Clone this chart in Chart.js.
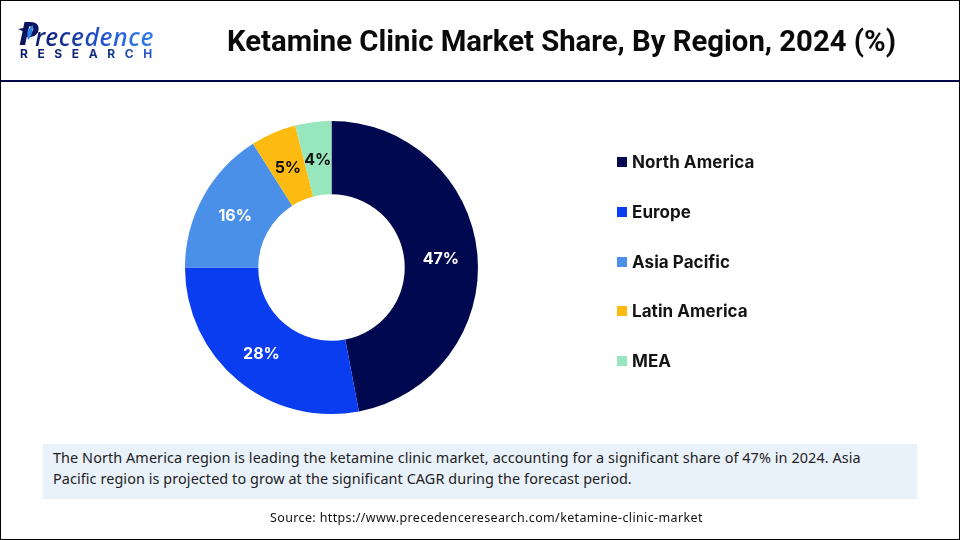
<!DOCTYPE html>
<html>
<head>
<meta charset="utf-8">
<script src="https://cdn.jsdelivr.net/npm/chart.js@4"></script>
<style>
  html, body { margin: 0; padding: 0; background: #fff; }
  #page { position: relative; width: 960px; height: 540px; overflow: hidden; background: #fff; font-family: "Noto Sans", sans-serif; }
  #page div { position: absolute; white-space: nowrap; }
  #cv { position: absolute; left: 0; top: 0; }
  #frame { left: 0; top: 0; width: 958px; height: 538px; border: 1px solid #000; }
  #rule { left: 1px; top: 80px; width: 958px; height: 2px; background: #00084a; }
  #title { left: 227px; top: 21px; font: 700 29.3px/40px Roboto, sans-serif; color: #0a0a0a; }
  #logo1 { left: 35px; top: 18px; font: italic 500 25px/36px "Noto Sans", sans-serif; letter-spacing: 0.6px;
           background: linear-gradient(90deg, #0b1a6b, #2a62e0 70%, #2f7fe6); -webkit-background-clip: text; background-clip: text; color: transparent; }
  #logoP { left: 19px; top: 13px; font: italic 800 32px/40px "Noto Sans", sans-serif; color: #0b1460; }
  #logo2 { left: 20px; top: 46px; font: 700 12px/16px Inter, sans-serif; letter-spacing: 9.6px;
           background: linear-gradient(90deg, #0b1a6b, #14307f 60%, #2a62e0); -webkit-background-clip: text; background-clip: text; color: transparent; }
  .swatch { width: 10px; height: 10px; }
  .legend { font: 700 17px/20px Inter, sans-serif; color: #141414; letter-spacing: 0.06px; }
  #note { left: 43px; top: 444px; width: 874px; height: 55px; background: #e9f1fa; }
  .noteline { left: 53px; font-size: 14.4px; line-height: 20px; color: #222; letter-spacing: 0.09px; }
  #source { left: 270px; top: 509px; font-size: 12.5px; line-height: 18px; color: #111; letter-spacing: 0.37px; }
</style>
</head>
<body>
<div id="page">
  <canvas id="cv" width="960" height="540"></canvas>
  <div id="logoP">P</div>
  <div id="logo1">recedence</div>
  <div id="logo2">RESEARCH</div>
  <svg style="position:absolute;left:0;top:0" width="60" height="60"><path d="M18 29 L29 27 L27 33 Z" fill="#0b1460"/><path d="M33 25 C33 32 31 37 28 40 C26 34 28 28 33 25 Z" fill="#2f7fe6"/></svg>
  <div id="title">Ketamine Clinic Market Share, By Region, 2024 (%)</div>
  <div id="rule"></div>
  <div id="note"></div>
  <div class="noteline" style="top:448px">The North America region is leading the ketamine clinic market, accounting for a significant share of 47% in 2024. Asia</div>
  <div class="noteline" style="top:469px">Pacific region is projected to grow at the significant CAGR during the forecast period.</div>
  <div id="source">Source: https://www.precedenceresearch.com/ketamine-clinic-market</div>
  <div id="frame"></div>
</div>
<script>
const regions = ['North America', 'Europe', 'Asia Pacific', 'Latin America', 'MEA'];
const shares = [47, 28, 16, 5, 4];
const sliceColors = ['#00084f', '#0a3cf0', '#4a8fe8', '#fdbb12', '#98e6bd'];
const labelColors = ['#ffffff', '#ffffff', '#ffffff', '#111111', '#111111'];

// percent labels inside the slices
const sliceLabels = {
  id: 'sliceLabels',
  afterDatasetsDraw(chart) {
    const ctx = chart.ctx;
    const arcs = chart.getDatasetMeta(0).data;
    ctx.save();
    ctx.font = '700 16px Inter, sans-serif';
    ctx.textAlign = 'center';
    ctx.textBaseline = 'middle';
    arcs.forEach((arc, i) => {
      const p = arc.tooltipPosition();
      ctx.fillStyle = labelColors[i];
      ctx.fillText(shares[i] + '%', p.x, p.y + 2);
    });
    ctx.restore();
  }
};

new Chart(document.getElementById('cv'), {
  type: 'doughnut',
  data: {
    labels: regions,
    datasets: [{
      data: shares,
      backgroundColor: sliceColors,
      borderWidth: 0
    }]
  },
  options: {
    responsive: false,
    animation: false,
    cutout: '50%',
    layout: { padding: { left: 185, right: 482, top: 121, bottom: 126 } },
    plugins: { legend: { display: false }, tooltip: { enabled: false } }
  },
  plugins: [sliceLabels]
});

// legend on the right
const page = document.getElementById('page');
regions.forEach((name, i) => {
  const y = 162 + i * 49.8;
  const sw = document.createElement('div');
  sw.className = 'swatch';
  sw.style.left = '617px';
  sw.style.top = (y - 5) + 'px';
  sw.style.background = sliceColors[i];
  page.appendChild(sw);
  const lb = document.createElement('div');
  lb.className = 'legend';
  lb.style.left = '632px';
  lb.style.top = (y - 10) + 'px';
  lb.textContent = name;
  page.appendChild(lb);
});
</script>
</body>
</html>
